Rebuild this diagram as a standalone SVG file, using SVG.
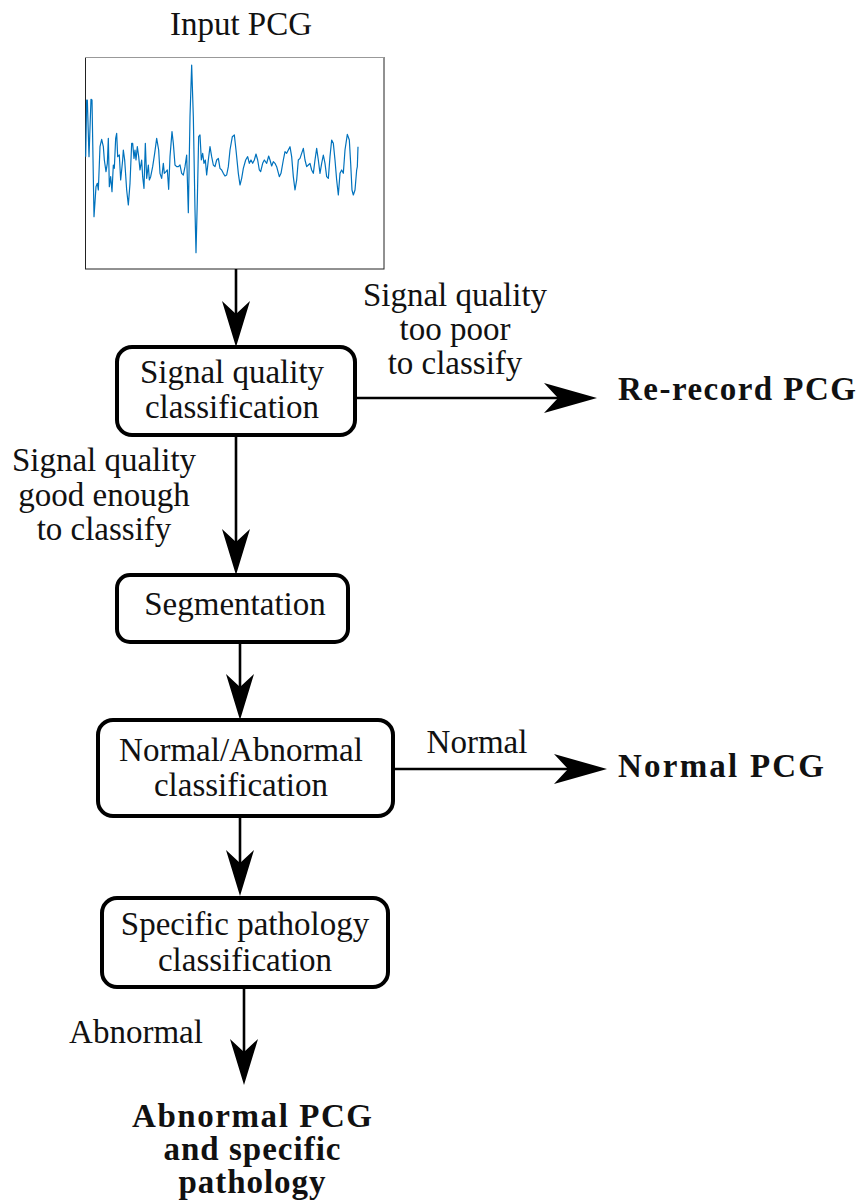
<svg xmlns="http://www.w3.org/2000/svg" width="860" height="1201" viewBox="0 0 860 1201">
<style>
text{font-family:"Liberation Serif","Times New Roman",serif;font-size:33px;fill:#111;text-anchor:middle}
.b{font-weight:bold}
.box{fill:#fff;stroke:#000;stroke-width:4}
.con{stroke:#000;stroke-width:2.6;fill:none}
</style>
<defs>
<marker id="ah" markerUnits="userSpaceOnUse" viewBox="0 -17 60 34" markerWidth="60" markerHeight="34" refX="14" refY="0" orient="auto" overflow="visible">
<path d="M53,0 L0,-15 L14,0 L0,15 Z" fill="#000"/>
</marker>
<marker id="av" markerUnits="userSpaceOnUse" viewBox="0 -16 50 32" markerWidth="50" markerHeight="32" refX="13" refY="0" orient="auto" overflow="visible">
<path d="M46,0 L0,-14 L13,0 L0,14 Z" fill="#000"/>
</marker>
</defs>
<rect width="860" height="1201" fill="#fff"/>

<g id="input">
<text x="241" y="35">Input PCG</text>
<rect x="85.5" y="57.5" width="298.5" height="211.5" fill="#fff" stroke="#222" stroke-width="1"/>
<line x1="85" y1="57.5" x2="384" y2="57.5" stroke="#999" stroke-width="1"/>
<polyline transform="translate(80,50) scale(0.33333)" fill="none" stroke="#0072BD" stroke-width="3.6" stroke-linejoin="round" points="17,320 20,150 22,150 27,320 33,148 36,150 42,500 48,410 52,400 55,420 60,290 65,268 70,290 73,330 78,365 82,340 85,265 88,410 92,380 96,425 100,345 103,355 107,265 110,250 113,320 118,315 122,390 128,330 130,300 134,330 140,420 145,465 150,400 155,280 158,280 162,325 165,300 168,330 172,290 176,320 180,360 185,330 188,380 192,415 196,280 200,385 205,345 208,390 212,380 218,350 224,310 230,265 236,300 240,370 245,385 250,340 253,370 258,365 262,360 266,418 270,320 276,245 280,280 285,345 290,350 295,350 300,345 305,370 310,375 315,350 320,315 325,488 330,200 335,45 340,200 345,480 348,608 352,450 356,260 360,255 364,330 368,310 372,340 376,330 380,375 385,330 390,290 395,320 400,345 405,350 410,330 415,325 420,355 425,360 430,370 435,378 440,375 445,350 450,300 457,260 463,255 468,300 475,370 480,405 485,385 490,355 497,330 503,320 508,340 513,330 518,340 523,330 528,312 533,330 538,360 542,365 548,340 553,330 560,340 566,318 570,330 575,348 580,335 585,340 590,350 598,380 603,370 610,330 615,305 620,310 625,300 630,290 635,320 640,380 645,420 650,390 655,330 660,325 665,310 670,295 675,330 680,350 685,345 690,340 695,360 700,370 705,330 710,295 715,330 720,370 725,340 730,315 735,340 740,380 745,385 750,320 755,270 760,280 765,330 770,390 775,435 780,370 785,360 790,370 795,300 802,253 808,270 812,340 816,420 820,435 825,420 830,360 832,350 834,290"/>
</g>

<g id="connectors">
<line class="con" x1="236" y1="269" x2="236" y2="314" marker-end="url(#av)"/>
<line class="con" x1="355" y1="398" x2="558" y2="398" marker-end="url(#ah)"/>
<line class="con" x1="236" y1="435" x2="236" y2="542" marker-end="url(#av)"/>
<line class="con" x1="240" y1="642" x2="240" y2="687" marker-end="url(#av)"/>
<line class="con" x1="393" y1="769" x2="568" y2="769" marker-end="url(#ah)"/>
<line class="con" x1="240" y1="816" x2="240" y2="863" marker-end="url(#av)"/>
<line class="con" x1="244" y1="987" x2="244" y2="1052" marker-end="url(#av)"/>
<text x="455" y="306">Signal quality</text>
<text x="455" y="340">too poor</text>
<text x="455" y="374">to classify</text>
<text x="104" y="471">Signal quality</text>
<text x="104" y="506">good enough</text>
<text x="104" y="540">to classify</text>
<text x="477" y="753">Normal</text>
<text x="136" y="1043">Abnormal</text>
</g>

<g id="sqc">
<rect class="box" x="117" y="347" width="238" height="88" rx="15"/>
<text x="232" y="383">Signal quality</text>
<text x="232" y="418">classification</text>
</g>

<g id="rerecord">
<text class="b" x="737" y="400" textLength="238">Re-record PCG</text>
</g>

<g id="seg">
<rect class="box" x="117" y="575" width="231" height="67" rx="13"/>
<text x="235" y="615">Segmentation</text>
</g>

<g id="nac">
<rect class="box" x="98" y="720" width="295" height="96" rx="15"/>
<text x="241" y="761">Normal/Abnormal</text>
<text x="241" y="796">classification</text>
</g>

<g id="normal">
<text class="b" x="721" y="777" textLength="206">Normal PCG</text>
</g>

<g id="spc">
<rect class="box" x="102" y="898" width="286" height="89" rx="15"/>
<text x="245" y="935">Specific pathology</text>
<text x="245" y="971">classification</text>
</g>

<g id="abnormal">
<text class="b" x="252" y="1127" textLength="240">Abnormal PCG</text>
<text class="b" x="252" y="1160" textLength="177">and specific</text>
<text class="b" x="252" y="1193" textLength="147">pathology</text>
</g>
</svg>
